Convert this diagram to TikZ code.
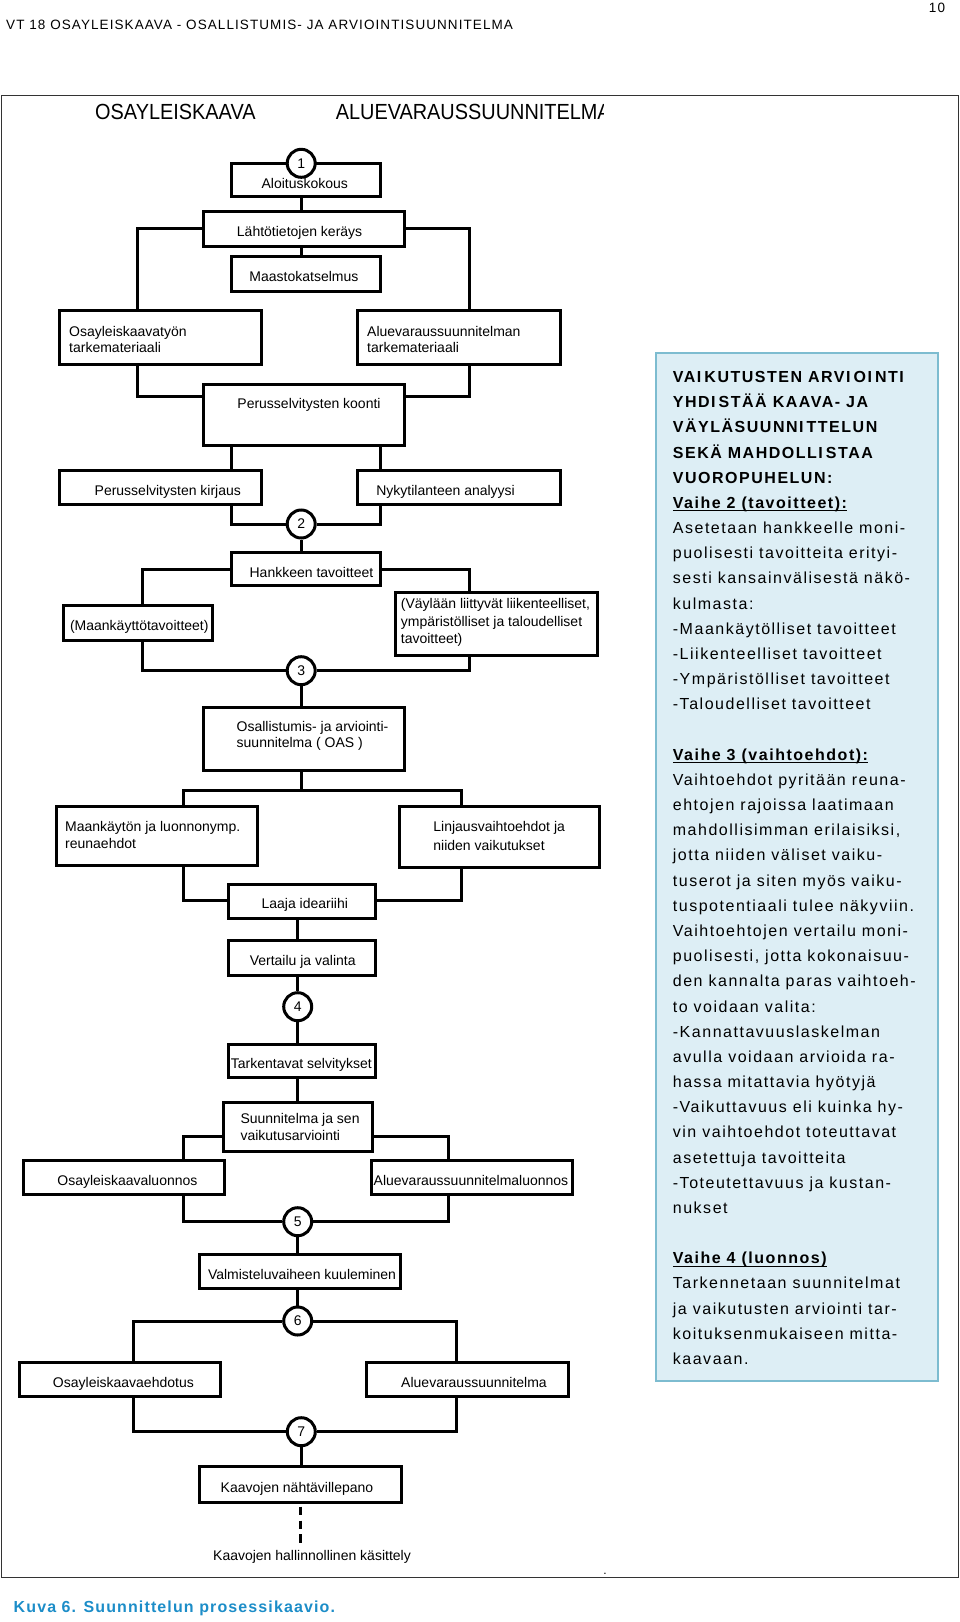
\documentclass[tikz,border=0pt]{standalone}
\usepackage{fontspec}
\usepackage{graphicx}
\setmainfont{Liberation Sans}
\newfontfamily\df{Liberation Sans}
\newfontfamily\pf[LetterSpace=9.5]{Liberation Sans}
\newfontfamily\hf[LetterSpace=8]{Liberation Sans}
\newfontfamily\cf[LetterSpace=7]{Liberation Sans}
\usetikzlibrary{fit,calc}
\pgfdeclarelayer{bg}
\pgfsetlayers{bg,main}
\definecolor{panelfill}{HTML}{DDEEF5}
\definecolor{paneldraw}{HTML}{7DBCD0}
\definecolor{capblue}{HTML}{1C8DC8}
\newcommand\ulx[1]{\setbox0\hbox{#1}\rlap{\rule[-3pt]{\wd0}{1.3pt}}\box0}
\newcommand\Ik{I\kern3pt}
\begin{document}
\begin{tikzpicture}[x=1pt,y=-1pt,
  box/.style={draw=black, line width=3pt, fill=white, inner sep=0pt, outer sep=0pt, rectangle},
  num/.style={circle, draw=black, line width=3pt, fill=white, minimum size=28pt, inner sep=0pt, font=\df\fontsize{14}{14}\selectfont},
  tx/.style={inner sep=0pt, anchor=base, font=\df\fontsize{14}{17}\selectfont},
  mtx/.style={inner sep=0pt, anchor=west, align=left},
  con/.style={line width=3pt, draw=black},
  pl/.style={anchor=base west, inner sep=0pt, font=\pf\fontsize{16}{20}\selectfont},
  panel/.style={draw=paneldraw, fill=panelfill, line width=2pt, inner sep=0pt, outer sep=0pt, rectangle},
  frame/.style={draw=black!80, line width=1.2pt, inner sep=0pt, outer sep=0pt, rectangle},
]
\useasboundingbox (0,0) rectangle (960,1622);

% header
\node[inner sep=0pt, anchor=base west, font=\hf\fontsize{13.5}{13.5}\selectfont] (hdr) at (6,29.5) {VT 18 OSAYLEISKAAVA - OSALLISTUMIS- JA ARVIOINTISUUNNITELMA};
\node[inner sep=0pt, anchor=base, font=\hf\fontsize{13.5}{13.5}\selectfont] (pg) at (937,12.7) {10};

% frame
\node[frame, fit={(1.5,95.7) (958.5,1577.3)}] (frame) {};
\node[inner sep=0pt, anchor=base west] (t1) at (95,119.5) {\scalebox{1}[1.1]{\df\fontsize{19.9}{20}\selectfont OSAYLEISKAAVA}};
\begin{scope}
\clip (300,98) rectangle (603,140);
\node[inner sep=0pt, anchor=base west] (t2) at (335.6,119.5) {\scalebox{1}[1.1]{\df\fontsize{19.9}{20}\selectfont ALUEVARAUSSUUNNITELMA}};
\end{scope}

% panel
\node[panel, fit={(656,352.7) (938,1380.7)}] (panel) {};
\foreach \t [count=\i from 0] in {
 {\bfseries VA\Ik KUTUSTEN ARV\Ik O\Ik NTI},
 {\bfseries YHD\Ik STÄÄ KAAVA- JA},
 {\bfseries VÄYLÄSUUNN\Ik TTELUN},
 {\bfseries SEKÄ MAHDOLL\Ik STAA},
 {\bfseries VUOROPUHELUN:},
 {\bfseries\ulx{Vaihe 2 (tavoitteet):}},
 {Asetetaan hankkeelle moni-},
 {puolisesti tavoitteita erityi-},
 {sesti kansainvälisestä näkö-},
 {kulmasta:},
 {-Maankäytölliset tavoitteet},
 {-Liikenteelliset tavoitteet},
 {-Ympäristölliset tavoitteet},
 {-Taloudelliset tavoitteet}}
 {\node[pl] (p\i) at (672.7,{382.5+25.18*\i}) {\t};}
\foreach \t [count=\i from 15] in {
 {\bfseries\ulx{Vaihe 3 (vaihtoehdot):}},
 {Vaihtoehdot pyritään reuna-},
 {ehtojen rajoissa laatimaan},
 {mahdollisimman erilaisiksi,},
 {jotta niiden väliset vaiku-},
 {tuserot ja siten myös vaiku-},
 {tuspotentiaali tulee näkyviin.},
 {Vaihtoehtojen vertailu moni-},
 {puolisesti, jotta kokonaisuu-},
 {den kannalta paras vaihtoeh-},
 {to voidaan valita:},
 {-Kannattavuuslaskelman},
 {avulla voidaan arvioida ra-},
 {hassa mitattavia hyötyjä},
 {-Vaikuttavuus eli kuinka hy-},
 {vin vaihtoehdot toteuttavat},
 {asetettuja tavoitteita},
 {-Toteutettavuus ja kustan-},
 {nukset}}
 {\node[pl] (p\i) at (672.7,{382.5+25.18*\i}) {\t};}
\foreach \t [count=\i from 35] in {
 {\bfseries\ulx{Vaihe 4 (luonnos)}},
 {Tarkennetaan suunnitelmat},
 {ja vaikutusten arviointi tar-},
 {koituksenmukaiseen mitta-},
 {kaavaan.}}
 {\node[pl] (p\i) at (672.7,{382.5+25.18*\i}) {\t};}

% boxes
\node[box, fit={(231.5,163.3) (380,196.7)}] (alo) {};
\node[box, fit={(203,211.7) (404.5,246)}] (lah) {};
\node[box, fit={(231.5,256) (380,291.7)}] (maa) {};
\node[box, fit={(59.3,310) (261.4,364.3)}] (otm) {};
\node[box, fit={(357.8,310) (560.7,364.3)}] (atm) {};
\node[box, fit={(203,384) (404.5,445)}] (koo) {};
\node[box, fit={(59.3,470) (261.4,504)}] (kir) {};
\node[box, fit={(357.8,470) (560.7,504)}] (nyk) {};
\node[box, fit={(231.5,552.7) (380,585.7)}] (han) {};
\node[box, fit={(63.1,605) (212.4,640)}] (mkt) {};
\node[box, fit={(395.3,592.7) (597,655.7)}] (vay) {};
\node[box, fit={(203,707.3) (404.5,770)}] (oas) {};
\node[box, fit={(56.3,806.7) (257.2,865)}] (mlr) {};
\node[box, fit={(399.2,806.7) (599,867.3)}] (lin) {};
\node[box, fit={(228.5,884) (375.8,918.3)}] (laa) {};
\node[box, fit={(228.5,940.7) (375.8,975.7)}] (ver) {};
\node[box, fit={(228.5,1044) (375.8,1077.3)}] (tar) {};
\node[box, fit={(223,1102.3) (372,1151.7)}] (suu) {};
\node[box, fit={(23,1160) (224.6,1194)}] (oln) {};
\node[box, fit={(371.2,1160) (572.9,1194)}] (aln) {};
\node[box, fit={(199,1254.3) (400.7,1288.3)}] (val) {};
\node[box, fit={(19.6,1362.3) (220.4,1396.7)}] (oeh) {};
\node[box, fit={(366.2,1362.3) (568.3,1396.7)}] (avs) {};
\node[box, fit={(199,1466.7) (401,1502.3)}] (kaa) {};

% circles
\node[num] (c1) at (301.2,163.3) {1};
\node[num] (c2) at (301.2,524) {2};
\node[num] (c3) at (301.2,670.7) {3};
\node[num] (c4) at (297.7,1006.7) {4};
\node[num] (c5) at (297.7,1221.7) {5};
\node[num] (c6) at (297.7,1321) {6};
\node[num] (c7) at (301.3,1431.7) {7};

% junction coordinates
\coordinate (xL1) at (137,0);   \coordinate (xR1) at (469.6,0);
\coordinate (xL2) at (231.5,0); \coordinate (xR2) at (380,0);
\coordinate (xL3) at (142.4,0); \coordinate (xR3) at (469.6,0);
\coordinate (xL4) at (183,0);   \coordinate (xR4) at (461,0);
\coordinate (xL5) at (183,0);   \coordinate (xR5) at (448.5,0);
\coordinate (xL6) at (133.5,0); \coordinate (xR6) at (456.8,0);
\coordinate (yA) at (0,396.7);  \coordinate (yB) at (0,790);
\coordinate (yC) at (0,900.7);  \coordinate (yH) at (0,569);
\coordinate (yS) at (0,1136.7);
\coordinate (dEnd) at (300.7,1543.3);

\begin{pgfonlayer}{bg}
\draw[con] (alo.south -| c1) -- (lah.north -| c1);
\draw[con] (lah.south -| c1) -- (maa.north -| c1);
\draw[con] (lah.west) -| (xL1 |- otm.north);
\draw[con] (lah.east) -| (xR1 |- atm.north);
\draw[con] (xL1 |- otm.south) |- (koo.west |- yA);
\draw[con] (xR1 |- atm.south) |- (koo.east |- yA);
\draw[con] (xL2 |- koo.south) -- (xL2 |- kir.north);
\draw[con] (xR2 |- koo.south) -- (xR2 |- nyk.north);
\draw[con] (xL2 |- kir.south) |- (c2);
\draw[con] (xR2 |- nyk.south) |- (c2);
\draw[con] (c2) -- (han.north -| c2);
\draw[con] (han.west |- yH) -| (xL3 |- mkt.north);
\draw[con] (han.east |- yH) -| (xR3 |- vay.north);
\draw[con] (xL3 |- mkt.south) |- (c3);
\draw[con] (xR3 |- vay.south) |- (c3);
\draw[con] (c3) -- (oas.north -| c3);
\draw[con] (oas.south -| c3) -- (c3 |- yB);
\draw[con] (xL4 |- mlr.north) -- (xL4 |- yB) -- (xR4 |- yB) -- (xR4 |- lin.north);
\draw[con] (xL4 |- mlr.south) |- (laa.west |- yC);
\draw[con] (xR4 |- lin.south) |- (laa.east |- yC);
\draw[con] (laa.south -| c4) -- (ver.north -| c4);
\draw[con] (ver.south -| c4) -- (c4);
\draw[con] (c4) -- (tar.north -| c4);
\draw[con] (tar.south -| c4) -- (suu.north -| c4);
\draw[con] (suu.west |- yS) -| (xL5 |- oln.north);
\draw[con] (suu.east |- yS) -| (xR5 |- aln.north);
\draw[con] (xL5 |- oln.south) |- (c5);
\draw[con] (xR5 |- aln.south) |- (c5);
\draw[con] (c5) -- (val.north -| c5);
\draw[con] (val.south -| c5) -- (c6);
\draw[con] (c6) -| (xL6 |- oeh.north);
\draw[con] (c6) -| (xR6 |- avs.north);
\draw[con] (xL6 |- oeh.south) |- (c7);
\draw[con] (xR6 |- avs.south) |- (c7);
\draw[con] (c7) -- (kaa.north -| c7);
\draw[line width=3.5pt, dash pattern=on 8.3pt off 5.5pt] ([yshift=-4.4pt]kaa.south -| dEnd) -- (dEnd);
\end{pgfonlayer}

% box texts
\node[tx] (alo-t) at (304.8,188.3) {Aloituskokous};
\node[tx] (lah-t) at (299.6,236.2) {Lähtötietojen keräys};
\node[tx] (maa-t) at (303.9,281.8) {Maastokatselmus};
\node[mtx, font=\df\fontsize{14}{16.3}\selectfont] (otm-t) at (69,339.2) {Osayleiskaavatyön\\tarkemateriaali};
\node[mtx, font=\df\fontsize{14}{16.3}\selectfont] (atm-t) at (367,339.2) {Aluevaraussuunnitelman\\tarkemateriaali};
\node[tx] (koo-t) at (309,408.8) {Perusselvitysten koonti};
\node[tx] (kir-t) at (167.8,495.2) {Perusselvitysten kirjaus};
\node[tx] (nyk-t) at (445.6,495.2) {Nykytilanteen analyysi};
\node[tx] (han-t) at (311.5,577.2) {Hankkeen tavoitteet};
\node[tx] (mkt-t) at (139.3,630.2) {(Maankäyttötavoitteet)};
\node[mtx, font=\df\fontsize{14}{17.5}\selectfont] (vay-t) at (400.7,622.5) {(Väylään liittyvät liikenteelliset,\\ympäristölliset ja taloudelliset\\tavoitteet)};
\node[mtx, font=\df\fontsize{14}{15.7}\selectfont] (oas-t) at (236.5,736.2) {Osallistumis- ja arviointi-\\suunnitelma ( OAS )};
\node[mtx, font=\df\fontsize{14}{16.6}\selectfont] (mlr-t) at (65,835) {Maankäytön ja luonnonymp.\\reunaehdot};
\node[mtx, font=\df\fontsize{14}{19}\selectfont] (lin-t) at (433.2,836.2) {Linjausvaihtoehdot ja\\niiden vaikutukset};
\node[tx] (laa-t) at (304.8,908.5) {Laaja ideariihi};
\node[tx] (ver-t) at (302.7,965.5) {Vertailu ja valinta};
\node[tx] (tar-t) at (301.3,1068.5) {Tarkentavat selvitykset};
\node[mtx, font=\df\fontsize{14}{17.4}\selectfont] (suu-t) at (240.3,1127) {Suunnitelma ja sen\\vaikutusarviointi};
\node[tx] (oln-t) at (127.4,1185.2) {Osayleiskaavaluonnos};
\node[tx] (aln-t) at (471,1185.2) {Aluevaraussuunnitelmaluonnos};
\node[tx, anchor=base west] (val-t) at (207.8,1279.5) {Valmisteluvaiheen kuuleminen};
\node[tx] (oeh-t) at (123.4,1387.8) {Osayleiskaavaehdotus};
\node[tx] (avs-t) at (474,1387.8) {Aluevaraussuunnitelma};
\node[tx] (kaa-t) at (297,1492.2) {Kaavojen nähtävillepano};
\node[tx] (khk-t) at (312,1560.5) {Kaavojen hallinnollinen käsittely};

\node[inner sep=0pt, anchor=base, font=\df\fontsize{12}{12}\selectfont] (dot) at (605,1574) {.};

% caption
\node[inner sep=0pt, anchor=base west, text=capblue, font=\cf\bfseries\fontsize{16}{16}\selectfont] (cap) at (13.5,1612.5) {Kuva 6. Suunnittelun prosessikaavio.};
\end{tikzpicture}
\end{document}
